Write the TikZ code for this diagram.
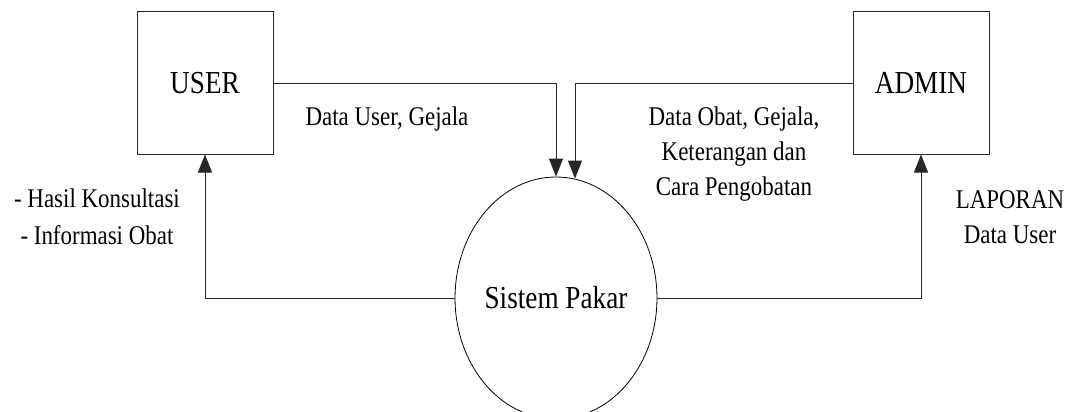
\documentclass[tikz,border=0pt]{standalone}
\usepackage{fontspec}
\setmainfont{Liberation Serif}[FakeStretch=0.85]
\usetikzlibrary{shapes.geometric,arrows.meta}
\begin{document}
\begin{tikzpicture}[x=1pt,y=-1pt,
  ent/.style={draw=black!85,line width=1pt,minimum width=136pt,minimum height=142pt,inner sep=0pt,font=\fontsize{32}{38}\selectfont},
  proc/.style={ellipse,draw=black,line width=0.8pt,minimum width=188pt,minimum height=242pt,inner sep=0pt,font=\fontsize{32}{38}\selectfont},
  flow/.style={draw=black!85,line width=1pt,-{Triangle[length=18pt,width=14pt]}},
  lbl/.style={font=\fontsize{27}{35}\selectfont,align=center,inner sep=0pt,anchor=base}]
\useasboundingbox (0,0) rectangle (1068,412);
\clip (0,0) rectangle (1068,412);
\node[ent] (user) at (205,83) {USER};
\node[ent] (admin) at (921,83) {ADMIN};
\node[proc] (sp) at (556,298) {Sistem Pakar};
\draw[flow] (user.east) -| (sp.north);
\draw[flow] (admin.west) -| ([xshift=19pt,yshift=-2pt]sp.north);
\draw[flow] (sp.west) -| (user.south);
\draw[flow] (sp.east) -| (admin.south);
\node[lbl] (l1) at (387,125) {Data User, Gejala};
\node[lbl] (l2) at (734,195) {Data Obat, Gejala,\\Keterangan dan\\Cara Pengobatan};
\node[lbl,font=\fontsize{27}{37}\selectfont] (l3) at (97,244) {- Hasil Konsultasi\\- Informasi Obat};
\node[lbl] (l4) at (1010,243) {LAPORAN\\Data User};
\end{tikzpicture}
\end{document}
